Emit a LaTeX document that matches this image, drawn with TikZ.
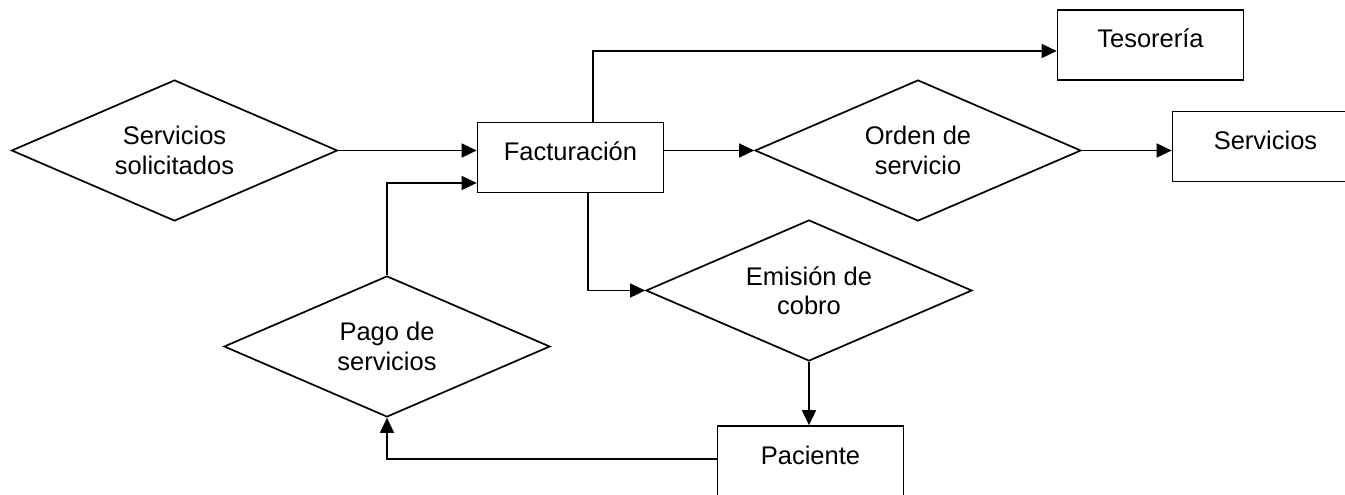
\documentclass[tikz,border=0pt]{standalone}
\usepackage{fontspec}
\setmainfont{Liberation Sans}
\usetikzlibrary{shapes.geometric,arrows.meta}
\tikzset{
  caja/.style={draw, line width=1.7pt, minimum width=186pt, minimum height=70pt,
    text height=18pt, text depth=12pt, inner sep=0pt},
  rombo/.style={draw, diamond, aspect=2.3, line width=1.7pt, minimum width=326pt,
    minimum height=141pt, inner sep=0pt, align=center},
  flecha/.style={line width=1.7pt, -{Triangle[length=15pt,width=14pt]}}
}
\begin{document}
\begin{tikzpicture}[x=1pt,y=-1pt,font=\fontsize{25.5}{29.5}\selectfont]
\useasboundingbox (0,0) rectangle (1345,495);
\node[rombo] (sol) at (174.5,150.5) {Servicios\\solicitados};
\node[caja] (fac) at (570.5,157.5) {Facturación};
\node[caja] (tes) at (1150.5,45) {Tesorería};
\node[rombo] (ord) at (918,150.5) {Orden de\\servicio};
\node[caja] (ser) at (1265.5,146.5) {Servicios};
\node[rombo] (emi) at (809,290.5) {Emisión de\\cobro};
\node[rombo] (pag) at (387,346.5) {Pago de\\servicios};
\node[caja] (pac) at (810.5,461) {Paciente};
\coordinate (c1) at (593,51);
\coordinate (c2) at (588,290);
\coordinate (c3) at (389,183);
\draw[flecha] (sol.east) -- (sol.east -| fac.west);
\draw[flecha] (ord.west -| fac.east) -- (ord.west);
\draw[flecha] (ord.east) -- (ord.east -| ser.west);
\draw[flecha] (fac.north -| c1) |- (tes.west |- c1);
\draw[flecha] (fac.south -| c2) |- (emi.west);
\draw[flecha] (emi.south) -- (emi.south |- pac.north);
\draw[flecha] ([yshift=2pt]pac.west) -| (pag.south);
\draw[flecha] (pag.north) |- (fac.west |- c3);
\end{tikzpicture}
\end{document}
